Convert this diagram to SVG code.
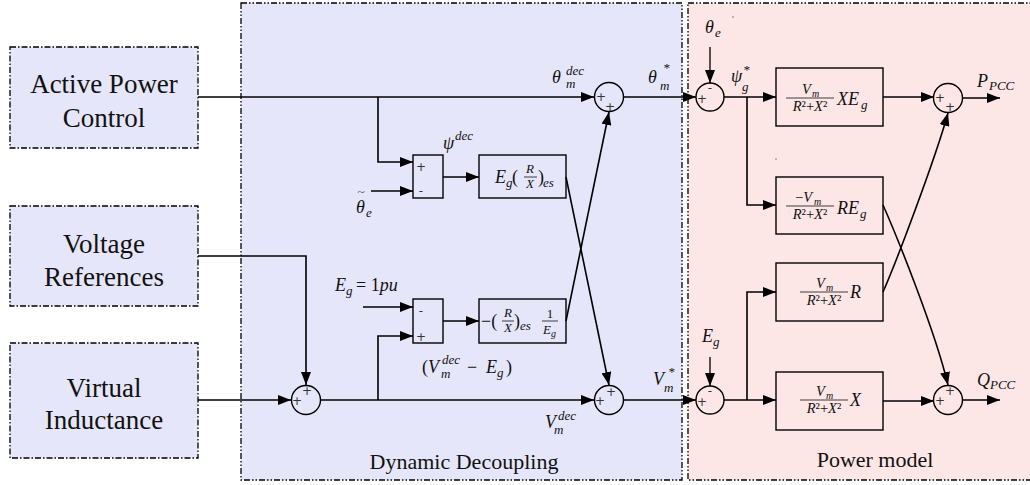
<svg xmlns="http://www.w3.org/2000/svg" width="1030" height="485" viewBox="0 0 1030 485">
<defs>
<marker id="ah" viewBox="0 0 13 10" refX="13" refY="5" markerWidth="13" markerHeight="10" orient="auto" markerUnits="userSpaceOnUse"><path d="M0,0 L13,5 L0,10 z" fill="#000"/></marker>
<style>
.region{stroke:#000;stroke-width:1.3;stroke-dasharray:6 2 1.5 2 1.5 2}
.dd{fill:#e6e6fa}
.pm{fill:#fde6e6}
.src{fill:#e6e6fa;stroke:#000;stroke-width:1.3;stroke-dasharray:6 2 1.5 2}
.blk{fill:none;stroke:#000;stroke-width:1.4}
.sum{fill:none;stroke:#000;stroke-width:1.4}
.w{fill:none;stroke:#000;stroke-width:1.6;marker-end:url(#ah)}
.t{font-family:"Liberation Serif","DejaVu Serif",serif;fill:#111}
.big{font-size:27px}
.cap{font-size:22px}
.m{font-family:"Liberation Serif","DejaVu Serif",serif;font-style:italic;fill:#111;font-size:18px}
.s{font-family:"Liberation Serif","DejaVu Serif",serif;font-style:italic;fill:#111;font-size:13px}
.f{font-family:"Liberation Serif","DejaVu Serif",serif;font-style:italic;fill:#111;font-size:14.5px}
.xs{font-family:"Liberation Serif","DejaVu Serif",serif;font-style:italic;fill:#111;font-size:10px}
.u{font-style:normal}
.sg{font-family:"DejaVu Sans",sans-serif;fill:#333;font-size:12px;text-anchor:middle}
.bar{stroke:#111;stroke-width:0.8}
</style>
</defs>

<g id="region-dynamic-decoupling">
<rect class="region dd" x="241" y="3" width="441" height="477"/>
<text class="t cap" x="464" y="469" text-anchor="middle">Dynamic Decoupling</text>
</g>
<g id="region-power-model">
<rect class="region pm" x="688" y="3" width="346" height="477"/>
<text class="t cap" x="875" y="467" text-anchor="middle">Power model</text>
<circle cx="733" cy="17" r="0.7" fill="#555"/>
<circle cx="776" cy="159" r="0.7" fill="#555"/>
</g>

<g id="node-active-power">
<rect class="src" x="10" y="47" width="188" height="101"/>
<text class="t big" x="104" y="93" text-anchor="middle">Active Power</text>
<text class="t big" x="104" y="127" text-anchor="middle">Control</text>
</g>
<g id="node-voltage-ref">
<rect class="src" x="10" y="206" width="188" height="100"/>
<text class="t big" x="104" y="253" text-anchor="middle">Voltage</text>
<text class="t big" x="104" y="286" text-anchor="middle">References</text>
</g>
<g id="node-virtual-inductance">
<rect class="src" x="10" y="343" width="188" height="115"/>
<text class="t big" x="104" y="397" text-anchor="middle">Virtual</text>
<text class="t big" x="104" y="429" text-anchor="middle">Inductance</text>
</g>

<g id="node-diff1">
<rect class="blk" x="413" y="155" width="30" height="43"/>
<text class="sg" x="421" y="171">+</text>
<text class="sg" x="421" y="195">-</text>
</g>
<g id="node-gain1">
<rect class="blk" x="479" y="155" width="87" height="43"/>
<text class="m" x="495" y="183">E</text><text class="s" x="506" y="187">g</text>
<text class="m u" x="512" y="183">(</text>
<text class="s" x="530" y="173" text-anchor="middle">R</text>
<line class="bar" x1="524" y1="177" x2="537" y2="177"/>
<text class="s" x="530" y="188" text-anchor="middle">X</text>
<text class="m u" x="538" y="183">)</text>
<text class="s" x="543" y="187">es</text>
</g>
<g id="node-diff2">
<rect class="blk" x="413" y="299" width="30" height="44"/>
<text class="sg" x="421" y="315">-</text>
<text class="sg" x="421" y="341">+</text>
</g>
<g id="node-gain2">
<rect class="blk" x="479" y="299" width="87" height="44"/>
<text class="m u" x="481" y="327">−(</text>
<text class="s" x="508" y="317" text-anchor="middle">R</text>
<line class="bar" x1="502" y1="321" x2="514" y2="321"/>
<text class="s" x="508" y="332" text-anchor="middle">X</text>
<text class="m u" x="514" y="327">)</text>
<text class="s" x="520" y="330">es</text>
<text class="s u" x="550" y="318" text-anchor="middle">1</text>
<line class="bar" x1="542" y1="321" x2="558" y2="321"/>
<text class="s" x="543" y="334">E</text><text class="xs" x="551" y="337">g</text>
</g>
<g id="node-sum-dd-top">
<circle class="sum" cx="609" cy="97" r="14.5"/>
<text class="sg" x="601" y="101">+</text>
<text class="sg" x="610" y="111">+</text>
</g>
<g id="node-sum-dd-in">
<circle class="sum" cx="306" cy="400" r="14.5"/>
<text class="sg" x="297" y="405">+</text>
<text class="sg" x="307" y="395">+</text>
</g>
<g id="node-sum-dd-bottom">
<circle class="sum" cx="609" cy="400" r="14.5"/>
<text class="sg" x="600" y="405">+</text>
<text class="sg" x="611" y="396">+</text>
</g>

<g id="node-sum-pm-top">
<circle class="sum" cx="710" cy="97" r="14"/>
<text class="sg" x="710" y="92">-</text>
<text class="sg" x="702" y="103">+</text>
</g>
<g id="node-sum-pm-bottom">
<circle class="sum" cx="710" cy="400" r="14"/>
<text class="sg" x="710" y="395">-</text>
<text class="sg" x="702" y="406">+</text>
</g>
<g id="node-p1">
<rect class="blk" x="776" y="68" width="107" height="58"/>
<text class="f" x="802" y="94">V</text><text class="xs" x="812" y="97">m</text>
<line class="bar" x1="786" y1="98" x2="834" y2="98"/>
<text class="f" x="810" y="111" text-anchor="middle">R<tspan class="u">²+</tspan>X<tspan class="u">²</tspan></text>
<text class="m" x="837" y="105">XE</text><text class="s" x="861" y="109">g</text>
</g>
<g id="node-p2">
<rect class="blk" x="776" y="177" width="107" height="57"/>
<text class="f" x="795" y="202"><tspan class="u">−</tspan>V</text><text class="xs" x="814" y="205">m</text>
<line class="bar" x1="786" y1="206" x2="834" y2="206"/>
<text class="f" x="810" y="219" text-anchor="middle">R<tspan class="u">²+</tspan>X<tspan class="u">²</tspan></text>
<text class="m" x="837" y="214">RE</text><text class="s" x="860" y="218">g</text>
</g>
<g id="node-p3">
<rect class="blk" x="776" y="263" width="107" height="58"/>
<text class="f" x="816" y="288">V</text><text class="xs" x="826" y="291">m</text>
<line class="bar" x1="800" y1="292" x2="848" y2="292"/>
<text class="f" x="824" y="305" text-anchor="middle">R<tspan class="u">²+</tspan>X<tspan class="u">²</tspan></text>
<text class="m" x="850" y="298">R</text>
</g>
<g id="node-p4">
<rect class="blk" x="776" y="372" width="107" height="58"/>
<text class="f" x="816" y="396">V</text><text class="xs" x="826" y="399">m</text>
<line class="bar" x1="800" y1="400" x2="848" y2="400"/>
<text class="f" x="824" y="413" text-anchor="middle">R<tspan class="u">²+</tspan>X<tspan class="u">²</tspan></text>
<text class="m" x="850" y="406">X</text>
</g>
<g id="node-sum-p">
<circle class="sum" cx="948" cy="98" r="14.5"/>
<text class="sg" x="940" y="102">+</text>
<text class="sg" x="950" y="111">+</text>
</g>
<g id="node-sum-q">
<circle class="sum" cx="948" cy="400" r="14.5"/>
<text class="sg" x="940" y="405">+</text>
<text class="sg" x="950" y="395">+</text>
</g>

<g id="connectors">
<path class="w" d="M198,97 H594" style="stroke-width:1.3"/>
<path class="w" d="M378,97 V162 H413"/>
<path class="w" d="M371,191 H413"/>
<path class="w" d="M443,177 H479"/>
<path class="w" d="M566,177 L609,385"/>
<path class="w" d="M566,321 L609,112"/>
<path class="w" d="M623,97 H696"/>
<path class="w" d="M198,256 H306 V385"/>
<path class="w" d="M198,400 H291" style="stroke-width:1.3"/>
<path class="w" d="M321,400 H594"/>
<path class="w" d="M378,400 V336 H413"/>
<path class="w" d="M363,307 H413"/>
<path class="w" d="M443,321 H479"/>
<path class="w" d="M623,400 H696"/>
<path class="w" d="M710,47 V83" style="stroke-width:1.3"/>
<path class="w" d="M724,97 H776" style="stroke-width:1.3"/>
<path class="w" d="M747,97 V205 H776"/>
<path class="w" d="M710,357 V386" style="stroke-width:1.3"/>
<path class="w" d="M724,400 H776" style="stroke-width:1.3"/>
<path class="w" d="M747,400 V292 H776"/>
<path class="w" d="M883,97 H934" style="stroke-width:1.3"/>
<path class="w" d="M883,205 C895,232 935,330 948,385"/>
<path class="w" d="M883,292 C895,265 935,160 948,113"/>
<path class="w" d="M883,401 H934" style="stroke-width:1.3"/>
<path class="w" d="M963,98 H1000"/>
<path class="w" d="M963,400 H1000"/>
</g>

<g id="labels">
<text class="m" x="552" y="83">θ</text><text class="s" x="566" y="75">dec</text><text class="s" x="566" y="88">m</text>
<text class="m" x="648" y="83">θ</text><text class="s" x="663" y="72">*</text><text class="s" x="660" y="90">m</text>
<text class="m" x="443" y="149">ψ</text><text class="s" x="455" y="140">dec</text>
<text class="t u" transform="translate(361,195) scale(1.3,0.7)" style="font-size:11px" text-anchor="middle">~</text>
<text class="m" x="356" y="213">θ</text><text class="s" x="366" y="217">e</text>
<text class="m" x="335" y="291">E</text><text class="s" x="346" y="295">g</text><text class="m" x="356" y="291"><tspan class="u">= 1</tspan>pu</text>
<text class="m" x="422" y="373"><tspan class="u">(</tspan>V</text><text class="s" x="442" y="364">dec</text><text class="s" x="441" y="378">m</text>
<text class="m" x="467" y="373"><tspan class="u">−</tspan></text><text class="m" x="486" y="373">E</text><text class="s" x="497" y="377">g</text><text class="m u" x="506" y="373">)</text>
<text class="m" x="653" y="385">V</text><text class="s" x="668" y="376">*</text><text class="s" x="664" y="392">m</text>
<text class="m" x="545" y="428">V</text><text class="s" x="558" y="420">dec</text><text class="s" x="554" y="434">m</text>
<text class="m" x="705" y="33">θ</text><text class="s" x="715" y="37">e</text>
<text class="m" x="731" y="82">ψ</text><text class="s" x="743" y="74">*</text><text class="s" x="742" y="91">g</text>
<text class="m" x="702" y="342">E</text><text class="s" x="713" y="346">g</text>
<text class="m" x="977" y="87">P</text><text class="s" x="989" y="90">PCC</text>
<text class="m" x="977" y="386">Q</text><text class="s" x="990" y="389">PCC</text>
</g>
</svg>
